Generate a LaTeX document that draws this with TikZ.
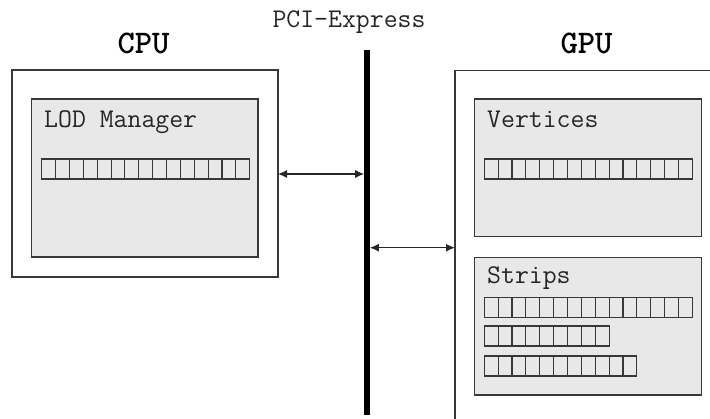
\documentclass[tikz,border=0pt]{standalone}
\usepackage{fontspec}
\usetikzlibrary{arrows.meta}
\definecolor{boxfill}{HTML}{E8E8E8}
\definecolor{edge}{HTML}{383838}
\tikzset{
  outerbox/.style={draw=edge, line width=1.5pt, fill=white, inner sep=0pt, outer sep=0pt, anchor=north west},
  innerbox/.style={draw=edge, line width=1.5pt, fill=boxfill, inner sep=0pt, outer sep=0pt, anchor=north west},
  cell/.style={draw=edge, line width=1.1pt, fill=boxfill},
  lbl/.style={font=\ttfamily\fontsize{27}{27}\selectfont, text=black!85, inner sep=0pt, anchor=base west},
  title/.style={font=\ttfamily\bfseries\fontsize{33}{33}\selectfont, inner sep=0pt, anchor=base},
  arr/.style={{Latex[length=9pt,width=8pt]}-{Latex[length=9pt,width=8pt]}, line width=1.3pt, draw=black!85},
  bus/.style={line width=5.5pt, draw=black}
}
\begin{document}
\begin{tikzpicture}[x=1pt,y=-1pt]
\useasboundingbox (0,0) rectangle (710,419);
\clip (0,0) rectangle (710,419);
\fill[white] (0,0) rectangle (710,419);
% titles
\node[title] (cpulbl) at (143.5,54) {CPU};
\node[title] (gpulbl) at (586.5,54) {GPU};
\node[lbl, anchor=base] (pcilbl) at (349,28) {PCI-Express};
% CPU
\node[outerbox, minimum width=266pt, minimum height=207pt] (cpu) at (12,70) {};
\node[innerbox, minimum width=226.3pt, minimum height=158pt] (lod) at (31.7,99) {};
\node[lbl] (lodlbl) at (44,128) {LOD Manager};
\foreach \i in {0,...,14} \draw[cell] ({41.7+13.87*\i},159) rectangle ++(13.87,20);
% GPU
\node[outerbox, minimum width=280pt, minimum height=370pt] (gpu) at (455,70.7) {};
\node[innerbox, minimum width=227.4pt, minimum height=137.7pt] (vert) at (474.3,99) {};
\node[lbl] (vertlbl) at (487,128) {Vertices};
\foreach \i in {0,...,14} \draw[cell] ({484.3+13.87*\i},159) rectangle ++(13.87,20);
\node[innerbox, minimum width=227.4pt, minimum height=137.7pt] (strips) at (474.3,257.3) {};
\node[lbl] (stripslbl) at (487,284) {Strips};
\foreach \i in {0,...,14} \draw[cell] ({484.3+13.87*\i},297.3) rectangle ++(13.87,20);
\foreach \i in {0,...,8} \draw[cell] ({484.3+13.87*\i},326) rectangle ++(13.87,20);
\foreach \i in {0,...,10} \draw[cell] ({484.3+13.87*\i},356) rectangle ++(13.87,20);
% bus
\coordinate (bustop) at (367,50);
\coordinate (busbot) at (367,415);
\draw[bus] (bustop) -- (busbot);
% arrows
\coordinate (a1) at (0,174);
\coordinate (a2) at (0,247.7);
\draw[arr, shorten >=2.8pt] (cpu.east |- a1) -- (bustop |- a1);
\draw[arr, shorten <=2.8pt] (bustop |- a2) -- (gpu.west |- a2);
\end{tikzpicture}
\end{document}
